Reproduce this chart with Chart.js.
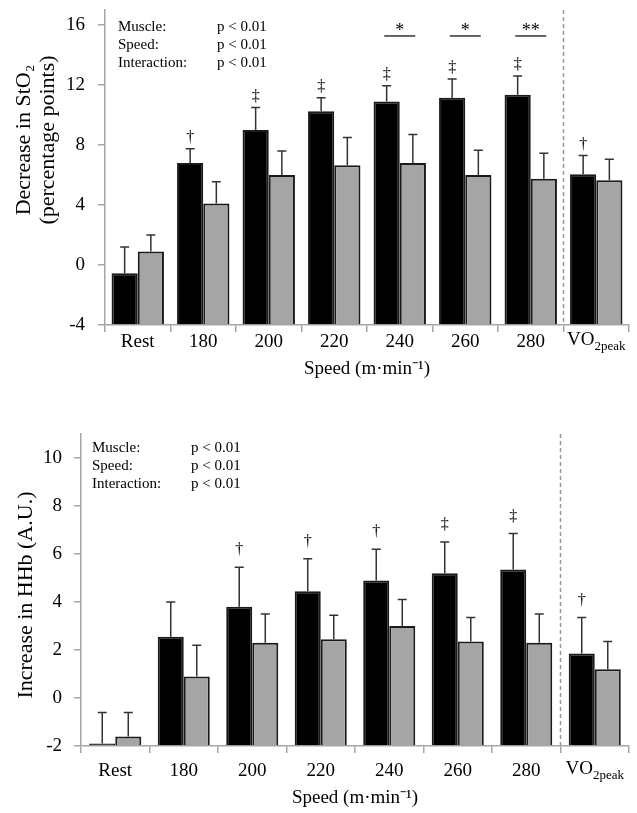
<!DOCTYPE html>
<html lang="en">
<head>
  <meta charset="UTF-8">
  <title>StO2 decrease and HHb increase by running speed</title>
  <script src="https://cdn.jsdelivr.net/npm/chart.js@4.4.1/dist/chart.umd.min.js"></script>
  <style>
    body { margin: 0; background: #fff; }
    canvas { position: absolute; left: 0; display: block; }
  </style>
</head>
<body>
  <canvas id="sto2" width="637" height="380" style="top:0"></canvas>
  <canvas id="hhb" width="637" height="433" style="top:380px"></canvas>
  <script>
    // categories
    const speeds = ['Rest', '180', '200', '220', '240', '260', '280', 'VO2peak'];

    // top panel: decrease in StO2 (percentage points), mean and SD
    const stoBlack = [-0.55, 6.8, 9.0, 10.25, 10.9, 11.15, 11.35, 6.05];
    const stoBlackSd = [1.75, 0.95, 1.5, 0.9, 1.05, 1.25, 1.25, 1.25];
    const stoGrey = [0.9, 4.1, 6.0, 6.65, 6.8, 6.0, 5.75, 5.65];
    const stoGreySd = [1.1, 1.45, 1.6, 1.85, 1.9, 1.65, 1.7, 1.4];
    const stoMarks = ['', '†', '‡', '‡', '‡', '‡', '‡', '†'];
    const stoStars = ['', '', '', '', '*', '*', '**', ''];
    const stoTicks = [-4, 0, 4, 8, 12, 16];

    // bottom panel: increase in HHb (A.U.), mean and SD
    const hhbBlack = [-1.9, 2.55, 3.8, 4.45, 4.9, 5.2, 5.35, 1.85];
    const hhbBlackSd = [1.3, 1.45, 1.65, 1.35, 1.3, 1.3, 1.5, 1.5];
    const hhbGrey = [-1.6, 0.9, 2.3, 2.45, 3.0, 2.35, 2.3, 1.2];
    const hhbGreySd = [1.0, 1.3, 1.2, 1.0, 1.1, 1.0, 1.2, 1.15];
    const hhbMarks = ['', '', '†', '†', '†', '‡', '‡', '†'];
    const hhbTicks = [-2, 0, 2, 4, 6, 8, 10];

    // ANOVA results printed in the corner
    const statLabels = ['Muscle:', 'Speed:', 'Interaction:'];
    const statValues = ['p < 0.01', 'p < 0.01', 'p < 0.01'];

    const SERIF = '"Liberation Serif", "Times New Roman", serif';
    const AXIS_GREY = '#a6a6a6';
    Chart.defaults.font.family = SERIF;
    Chart.defaults.color = '#000';

    // whiskers (upper side only) on every bar
    const errorBars = {
      id: 'errorBars',
      afterDatasetsDraw(chart) {
        const ctx = chart.ctx;
        const y = chart.scales.y;
        chart.data.datasets.forEach((ds, di) => {
          chart.getDatasetMeta(di).data.forEach((bar, i) => {
            const top = y.getPixelForValue(ds.data[i] + ds.sd[i]);
            ctx.save();
            ctx.strokeStyle = '#333';
            ctx.lineWidth = 1.5;
            ctx.beginPath();
            ctx.moveTo(bar.x, bar.y);
            ctx.lineTo(bar.x, top);
            ctx.moveTo(bar.x - 4.5, top);
            ctx.lineTo(bar.x + 4.5, top);
            ctx.stroke();
            ctx.restore();
          });
        });
      }
    };

    // stats text, dagger marks, significance bars, divider, y title and VO2peak label
    const notes = {
      id: 'notes',
      afterDraw(chart, args, o) {
        const ctx = chart.ctx;
        const area = chart.chartArea;
        const x = chart.scales.x;
        const y = chart.scales.y;
        ctx.save();

        // dashed divider before VO2peak
        const divX = (x.getPixelForTick(6) + x.getPixelForTick(7)) / 2;
        ctx.strokeStyle = '#999';
        ctx.lineWidth = 1.5;
        ctx.setLineDash([4, 3]);
        ctx.beginPath();
        ctx.moveTo(divX, area.top);
        ctx.lineTo(divX, area.bottom);
        ctx.stroke();
        ctx.setLineDash([]);

        // stats block
        ctx.fillStyle = '#000';
        ctx.font = '15px ' + SERIF;
        ctx.textBaseline = 'middle';
        ctx.textAlign = 'left';
        statLabels.forEach((s, i) => {
          const ty = area.top + o.statsTop + i * 18;
          ctx.fillText(s, area.left + o.statsLeft, ty);
          ctx.fillText(statValues[i], area.left + o.statsP, ty);
        });

        // daggers above the black bars' whiskers
        const black = chart.data.datasets[0];
        const meta = chart.getDatasetMeta(0);
        ctx.font = '16px ' + SERIF;
        ctx.textAlign = 'center';
        o.marks.forEach((m, i) => {
          if (!m) return;
          const top = y.getPixelForValue(black.data[i] + black.sd[i]);
          ctx.fillText(m, meta.data[i].x, top - o.markOffset);
        });

        // significance lines between muscles
        if (o.stars) {
          const ly = y.getPixelForValue(o.starValue);
          ctx.strokeStyle = '#333';
          ctx.lineWidth = 1.5;
          ctx.font = '18px ' + SERIF;
          o.stars.forEach((s, i) => {
            if (!s) return;
            const cx = x.getPixelForTick(i);
            ctx.beginPath();
            ctx.moveTo(cx - 15.5, ly);
            ctx.lineTo(cx + 15.5, ly);
            ctx.stroke();
            ctx.fillText(s, cx, ly - 5);
          });
        }

        // rotated y-axis title
        ctx.font = '22px ' + SERIF;
        o.yTitle.forEach((t, i) => {
          ctx.save();
          ctx.translate(o.yTitleX[i], area.top + o.yTitleMid);
          ctx.rotate(-Math.PI / 2);
          ctx.fillText(t, 0, 0);
          ctx.restore();
        });

        // VO2peak tick label with subscript
        const vx = x.getPixelForTick(7);
        const vy = x.top + 7 + o.labelPad;
        ctx.textBaseline = 'top';
        ctx.textAlign = 'left';
        ctx.font = '19px ' + SERIF;
        const w1 = ctx.measureText('VO').width;
        ctx.font = '13px ' + SERIF;
        const w2 = ctx.measureText('2peak').width;
        const sx = vx - (w1 + w2) / 2;
        ctx.font = '19px ' + SERIF;
        ctx.fillText('VO', sx, vy);
        ctx.font = '13px ' + SERIF;
        ctx.fillText('2peak', sx + w1, vy + 9);
        ctx.restore();
      }
    };

    function makeChart(id, cfg) {
      return new Chart(document.getElementById(id), {
        type: 'bar',
        data: {
          labels: speeds,
          datasets: [{
            data: cfg.black, sd: cfg.blackSd, base: cfg.min,
            backgroundColor: '#000', borderColor: '#1a1a1a', borderWidth: 2
          }, {
            data: cfg.grey, sd: cfg.greySd, base: cfg.min,
            backgroundColor: '#a5a5a5', borderColor: '#1a1a1a', borderWidth: 2
          }]
        },
        options: {
          responsive: false,
          animation: false,
          events: [],
          layout: { padding: { top: cfg.padTop, right: 8, left: 0, bottom: 0 } },
          datasets: { bar: { categoryPercentage: cfg.catPct, barPercentage: 1.0 } },
          plugins: {
            legend: { display: false },
            tooltip: { enabled: false },
            notes: cfg.notes
          },
          scales: {
            x: {
              grid: { offset: true, drawOnChartArea: false, tickLength: 7, color: AXIS_GREY, lineWidth: 1.5 },
              border: { color: AXIS_GREY, width: 1.5 },
              ticks: {
                padding: cfg.notes.labelPad,
                font: { size: 19 },
                callback: (v, i) => (speeds[i] === 'VO2peak' ? '' : speeds[i])
              },
              title: {
                display: true,
                text: 'Speed (m·min⁻¹)',
                font: { size: 19 },
                padding: { top: 0, bottom: cfg.xTitlePad }
              },
              afterFit: s => { s.height = cfg.xHeight; s.paddingLeft = 0; s.paddingRight = 0; }
            },
            y: {
              min: cfg.min,
              max: cfg.max,
              grid: { drawOnChartArea: false, tickLength: 7, color: AXIS_GREY, lineWidth: 1.5 },
              border: { color: AXIS_GREY, width: 1.5 },
              ticks: { font: { size: 19 }, padding: cfg.yTickPad },
              afterBuildTicks: s => { s.ticks = cfg.ticks.map(v => ({ value: v })); },
              afterFit: s => { s.width = cfg.yWidth; s.paddingTop = 0; s.paddingBottom = 0; }
            }
          }
        },
        plugins: [errorBars, notes]
      });
    }

    makeChart('sto2', {
      black: stoBlack, blackSd: stoBlackSd, grey: stoGrey, greySd: stoGreySd,
      min: -4, max: 17, ticks: stoTicks,
      padTop: 10, yWidth: 105, xHeight: 55, catPct: 0.8,
      yTickPad: 13, xTitlePad: 0,
      notes: {
        marks: stoMarks, markOffset: 11, stars: stoStars, starValue: 15.27,
        statsTop: 17, statsLeft: 13, statsP: 112, labelPad: -1,
        yTitle: ['Decrease in StO₂', '(percentage points)'], yTitleX: [24, 48], yTitleMid: 130
      }
    });

    makeChart('hhb', {
      black: hhbBlack, blackSd: hhbBlackSd, grey: hhbGrey, greySd: hhbGreySd,
      min: -2, max: 11, ticks: hhbTicks,
      padTop: 54, yWidth: 81, xHeight: 67, catPct: 0.76,
      yTickPad: 12, xTitlePad: 4,
      notes: {
        marks: hhbMarks, markOffset: 17, stars: null, starValue: 0,
        statsTop: 14, statsLeft: 11, statsP: 110, labelPad: 7,
        yTitle: ['Increase in HHb (A.U.)'], yTitleX: [26], yTitleMid: 161
      }
    });
  </script>
</body>
</html>
